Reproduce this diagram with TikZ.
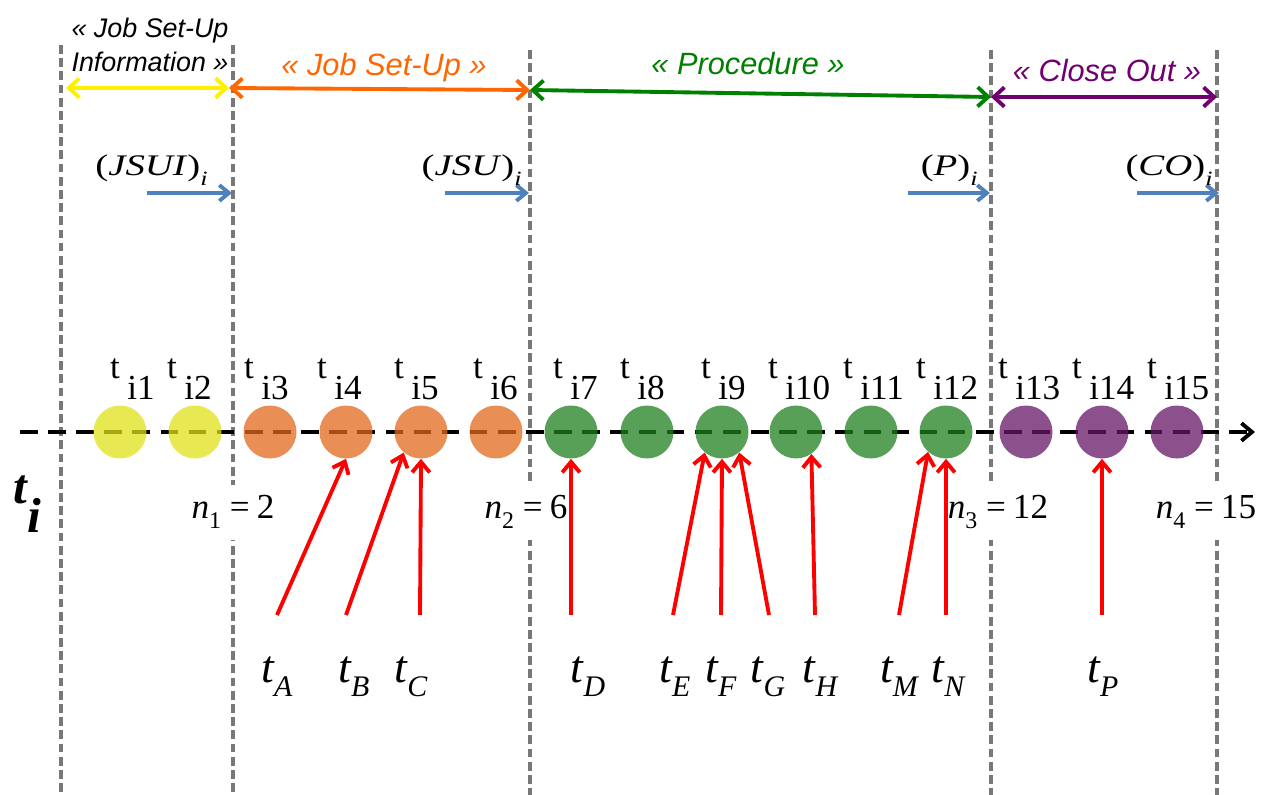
\documentclass[tikz,border=0pt]{standalone}
\usepackage{fontspec}
\setmainfont{Liberation Serif}
\newfontfamily\phasefont{Liberation Sans}
\usetikzlibrary{arrows.meta, calc}

\definecolor{jsuiC}{RGB}{255,240,0}
\definecolor{jsuC}{RGB}{255,102,0}
\definecolor{procC}{RGB}{0,128,0}
\definecolor{coC}{RGB}{112,0,112}
\definecolor{ylwDot}{RGB}{224,224,24}
\definecolor{orgDot}{RGB}{226,104,28}
\definecolor{grnDot}{RGB}{32,128,32}
\definecolor{prpDot}{RGB}{102,22,102}
\definecolor{stepC}{RGB}{79,129,189}
\definecolor{boundC}{RGB}{120,120,120}

\newcommand{\evt}[1]{{\fontsize{26}{26}\selectfont\itshape t}\raisebox{-8.5pt}{\fontsize{17}{17}\selectfont\itshape #1}}
\newcommand{\cnt}[2]{\textit{n}\raisebox{-6pt}{\fontsize{13.6}{14}\selectfont #1}\hspace{0.25em}=\hspace{0.2em}#2}
\newcommand{\dur}[1]{\scalebox{1.3}[1]{(\textit{#1})\raisebox{-5.5pt}{\fontsize{11.5}{12}\selectfont\textit{i}}}}

\tikzset{
  bound/.style={draw=boundC, line width=2pt, dash pattern=on 5pt off 2.5pt},
  span/.style={{Straight Barb[length=6pt,width=11pt]}-{Straight Barb[length=6pt,width=11pt]}, line width=2.2pt},
  phase/.style={font=\phasefont\itshape\fontsize{17.5}{21}\selectfont, inner sep=0pt},
  stepArr/.style={-{Straight Barb[length=5.5pt,width=9pt]}, draw=stepC, line width=2.2pt},
  durlab/.style={inner sep=0pt, font=\fontsize{17}{17}\selectfont},
  axis/.style={-{Straight Barb[length=6pt,width=10pt]}, line width=2.2pt, dash pattern=on 10pt off 6pt},
  dot/.style={circle, minimum size=1.06cm, inner sep=0pt, fill opacity=0.75},
  tlab/.style={inner sep=0pt, font=\fontsize{20}{20}\selectfont},
  nlab/.style={fill=white, minimum height=1.1cm, inner sep=1pt, font=\fontsize{20}{20}\selectfont},
  evlab/.style={inner sep=0pt, anchor=base},
  hit/.style={-{Straight Barb[length=6pt,width=10pt]}, draw=red, line width=2.2pt}
}

\begin{document}
\begin{tikzpicture}[x=0.2mm, y=-0.2mm]
  \useasboundingbox (0,0) rectangle (1261,795);

  % phase boundaries
  \foreach \k/\x/\y in {0/61/45, 1/233/45, 2/530/50, 3/991/50, 4/1217/50} {
    \coordinate (top\k) at (\x,\y);
    \coordinate (bot\k) at (\x,795);
    \draw[bound] (top\k) -- (bot\k);
  }

  % phase spans
  \coordinate (sp0) at (66,88);
  \coordinate (sp1) at (229,88);
  \coordinate (sp2) at (530,90);
  \coordinate (sp3) at (991,97);
  \coordinate (sp4) at (1217,97);
  \draw[span, jsuiC] (sp0) -- (sp1);
  \draw[span, jsuC] (sp1) -- (sp2);
  \draw[span, procC] (sp2) -- (sp3);
  \draw[span, coC] (sp3) -- (sp4);

  \node[phase, font=\phasefont\itshape\fontsize{15.3}{19}\selectfont, align=center] (jsuiLab) at (150,45) {« Job Set-Up\\Information »};
  \node[phase, text=jsuC, anchor=base] (jsuLab) at (384,76) {« Job Set-Up »};
  \node[phase, text=procC, anchor=base] (procLab) at (748,75) {« Procedure »};
  \node[phase, text=coC, anchor=base] (coLab) at (1107,82) {« Close Out »};

  % end of each phase
  \foreach \k/\xa/\xb in {1/147/232, 2/445/529, 3/908/990, 4/1137/1219} {
    \coordinate (stA\k) at (\xa,193);
    \coordinate (stB\k) at (\xb,193);
    \draw[stepArr] (stA\k) -- (stB\k);
  }
  \node[durlab, anchor=base east] (jsuiDur) at (208,176) {\dur{JSUI}};
  \node[durlab, anchor=base east] (jsuDur) at (522,176) {\dur{JSU}};
  \node[durlab, anchor=base east] (pDur) at (978,176) {\dur{P}};
  \node[durlab, anchor=base east] (coDur) at (1213,176) {\dur{CO}};

  % time axis
  \coordinate (ax0) at (20,432);
  \coordinate (ax1) at (1255,432);
  \draw[axis] (ax0) -- (ax1);
  \node[anchor=base west, inner sep=0pt, font=\fontsize{28}{28}\selectfont\bfseries\itshape] (tiLab) at (13,503) {t\raisebox{-17pt}{i}};

  % instants t_i1 ... t_i15
  \foreach \k/\cx/\tx/\col in {1/120/115/ylwDot, 2/195/172/ylwDot, 3/270/249/orgDot, 4/346/322/orgDot, 5/421/399/orgDot, 6/496/478/orgDot, 7/571/558/grnDot, 8/647/625/grnDot, 9/722/706/grnDot, 10/796/773/grnDot, 11/871/848/grnDot, 12/946/921/grnDot, 13/1026/1003/prpDot, 14/1102/1077/prpDot, 15/1177/1152/prpDot} {
    \node[dot, fill=\col] (c\k) at (\cx,432) {};
    \node[tlab, anchor=base] (t\k) at (\tx,378) {t};
    \node[tlab, anchor=base west] (i\k) at (\tx+12,399) {i\k};
  }

  % counts
  \node[nlab] (n1) at (233,512) {\cnt{1}{2}};
  \node[nlab] (n2) at (526,512) {\cnt{2}{6}};
  \node[nlab] (n3) at (998,512) {\cnt{3}{12}};
  \node[nlab] (n4) at (1206,512) {\cnt{4}{15}};

  % events
  \foreach \e/\lx/\tx in {A/277/277, B/354/346, C/411/420, D/588/571, E/675/673, F/721/721, G/768/769, H/820/815, M/899/899, N/948/946, P/1103/1102} {
    \coordinate (tail\e) at (\tx,615);
    \node[evlab] (ev\e) at (\lx,682) {\evt{\e}};
  }
  \draw[hit] (tailA) -- (c4.south);
  \draw[hit] (tailB) -- (c5.230);
  \draw[hit] (tailC) -- (c5.south);
  \draw[hit] (tailD) -- (c7.south);
  \draw[hit] (tailE) -- (c9.230);
  \draw[hit] (tailF) -- (c9.south);
  \draw[hit] (tailG) -- (c9.310);
  \draw[hit] (tailH) -- (c10.305);
  \draw[hit] (tailM) -- (c12.228);
  \draw[hit] (tailN) -- (c12.south);
  \draw[hit] (tailP) -- (c14.south);
\end{tikzpicture}
\end{document}
